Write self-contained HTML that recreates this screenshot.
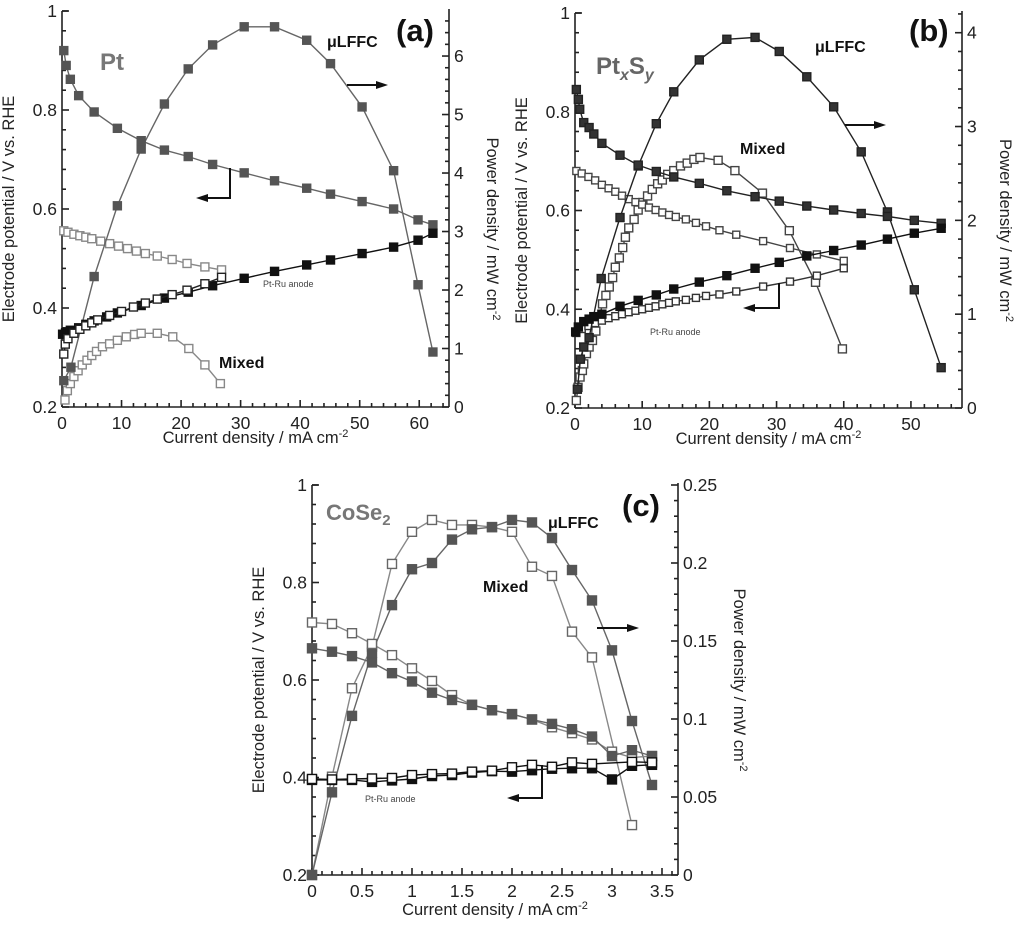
<!DOCTYPE html>
<html><head><meta charset="utf-8"><style>
html,body{margin:0;padding:0;background:#fff;}
svg{display:block;font-family:"Liberation Sans",sans-serif;}
</style></head><body>
<svg id="fig" width="1024" height="935" viewBox="0 0 1024 935"></svg>
<script>
// ---------- Panel A data ----------
const aPowX=[0.3,1.5,5.4,9.3,13.3,17.2,21.2,25.3,30.6,35.7,41.1,45.1,50.4,55.7,59.8,62.3];
const aPowY=[0.45,0.68,2.23,3.44,4.41,5.18,5.78,6.19,6.5,6.5,6.27,5.87,5.13,4.04,2.09,0.94];
const aPolX=[0.3,0.7,1.4,2.8,5.4,9.3,13.3,17.2,21.2,25.3,30.6,35.7,41.1,45.1,50.4,55.7,59.8,62.3];
const aPolY=[0.92,0.89,0.862,0.829,0.796,0.763,0.738,0.719,0.706,0.69,0.673,0.657,0.642,0.63,0.615,0.6,0.578,0.568];
const aAnX=[0.1,0.6,1.4,2.8,4,5.4,7.5,9.3,13.3,17.2,21.2,25.3,30.6,35.7,41.1,45.1,50.4,55.7,59.8,62.3];
const aAnY=[0.347,0.35,0.355,0.36,0.367,0.374,0.382,0.39,0.405,0.42,0.432,0.445,0.46,0.474,0.487,0.497,0.51,0.523,0.537,0.551];
const aMxPolX=[0.3,1,2,3,4,5,6.5,8,9.5,11,12.5,14,16,18.5,21,24,26.8];
const aMxPolY=[0.556,0.553,0.549,0.546,0.543,0.54,0.535,0.53,0.525,0.52,0.515,0.51,0.505,0.498,0.49,0.483,0.477];
const aMxAnX=[0.3,0.55,1,2,3,4,5,6,8,10,12,14,16,18.5,21,24,26.8];
const aMxAnY=[0.307,0.327,0.338,0.349,0.357,0.364,0.37,0.376,0.385,0.393,0.402,0.41,0.418,0.427,0.436,0.449,0.462];
const aMxPowX=[0.5,0.9,1.4,2,2.7,3.4,4.2,5,5.8,6.8,8,9.3,10.8,12.2,13.3,16,18.6,21.3,24,26.6];
const aMxPowY=[0.12,0.28,0.4,0.52,0.62,0.72,0.8,0.88,0.95,1.03,1.08,1.14,1.2,1.24,1.26,1.26,1.2,1.0,0.72,0.4];
// ---------- Panel B data ----------
const bPowX=[0.35,0.8,1.3,2.1,3.9,6.7,9.4,12.1,14.7,18.5,22.6,26.8,30.4,34.5,38.5,42.6,46.5,50.5,54.5];
const bPowY=[0.2,0.52,0.65,0.75,1.38,2.03,2.58,3.03,3.37,3.71,3.93,3.95,3.8,3.53,3.21,2.73,2.09,1.26,0.43];
const bPolX=[0.2,0.5,0.7,1.3,2.1,2.8,4,6.7,9.4,12.1,14.7,18.5,22.6,26.8,30.4,34.5,38.5,42.6,46.5,50.5,54.5];
const bPolY=[0.845,0.825,0.805,0.778,0.768,0.755,0.736,0.712,0.692,0.679,0.668,0.655,0.64,0.628,0.619,0.609,0.601,0.594,0.588,0.58,0.574];
const bAnX=[0.1,0.5,1.3,2.1,2.8,4,6.7,9.4,12.1,14.7,18.5,22.6,26.8,30.4,34.5,38.5,42.6,46.5,50.5,54.5];
const bAnY=[0.354,0.364,0.375,0.38,0.385,0.39,0.406,0.418,0.429,0.441,0.455,0.468,0.483,0.495,0.508,0.519,0.53,0.542,0.554,0.564];
const bMxPolX=[0.2,1,2,3,4,5,6,7,8,9,10,11,12,13,14,15,16.5,18,19.5,21.5,24,28,32,36,40];
const bMxPolY=[0.68,0.675,0.668,0.661,0.652,0.645,0.638,0.63,0.623,0.617,0.612,0.606,0.601,0.596,0.591,0.587,0.582,0.575,0.568,0.56,0.551,0.538,0.524,0.511,0.498];
const bMxAnX=[0.2,1,2,3,4,5,6,7,8,9,10,11,12,13,14,15,16.5,18,19.5,21.5,24,28,32,36,40];
const bMxAnY=[0.352,0.36,0.366,0.372,0.377,0.382,0.386,0.39,0.394,0.397,0.4,0.403,0.406,0.41,0.413,0.416,0.419,0.423,0.427,0.43,0.436,0.446,0.456,0.468,0.483];
const bMxPowX=[0.2,0.45,0.75,1.1,1.3,1.7,2.1,2.6,3.1,3.6,4.1,4.6,5.1,5.6,6,6.6,7.1,7.5,8,8.8,9.4,10.1,10.8,11.5,12.3,13,13.8,14.7,15.7,16.7,17.7,18.6,21.3,23.8,27.9,31.9,35.8,39.8];
const bMxPowY=[0.08,0.22,0.33,0.4,0.47,0.58,0.65,0.72,0.82,0.96,1.11,1.2,1.29,1.39,1.5,1.6,1.71,1.82,1.92,2.01,2.11,2.19,2.26,2.33,2.39,2.43,2.49,2.53,2.58,2.61,2.65,2.67,2.64,2.53,2.29,1.89,1.34,0.63];
// ---------- Panel C data ----------
const cX=[0,0.2,0.4,0.6,0.8,1,1.2,1.4,1.6,1.8,2,2.2,2.4,2.6,2.8,3,3.2,3.4];
const cPow=[0,0.053,0.102,0.1425,0.173,0.196,0.2,0.215,0.2216,0.223,0.2276,0.226,0.216,0.1955,0.176,0.144,0.0987,0.0577];
const cMxPowX=[0,0.2,0.4,0.6,0.8,1,1.2,1.4,1.6,1.8,2,2.2,2.4,2.6,2.8,3.2];
const cMxPow=[0,0.063,0.1197,0.1464,0.1994,0.22,0.2276,0.2244,0.2244,0.223,0.22,0.1976,0.1917,0.156,0.1395,0.032];
const cPol=[0.665,0.658,0.649,0.636,0.614,0.597,0.574,0.559,0.549,0.538,0.53,0.519,0.51,0.499,0.484,0.444,0.456,0.444];
const cMxPol=[0.718,0.715,0.696,0.674,0.651,0.624,0.598,0.569,0.549,0.538,0.53,0.519,0.503,0.491,0.478,0.453,0.441,0.444];
const cAn=[0.395,0.395,0.395,0.391,0.394,0.397,0.403,0.405,0.41,0.413,0.412,0.415,0.418,0.419,0.419,0.396,0.424,0.426];
const cMxAnX=[0,0.2,0.4,0.6,0.8,1,1.2,1.4,1.6,1.8,2,2.2,2.4,2.6,2.8,3.2,3.4];
const cMxAn=[0.397,0.396,0.397,0.398,0.399,0.405,0.407,0.408,0.412,0.414,0.421,0.426,0.422,0.431,0.428,0.432,0.431];

const NS="http://www.w3.org/2000/svg";
const svg=document.getElementById('fig');
function el(tag,attrs,parent){const e=document.createElementNS(NS,tag);for(const k in attrs)e.setAttribute(k,attrs[k]);(parent||svg).appendChild(e);return e;}
function txt(s,x,y,size,attrs,parent){const t=el('text',Object.assign({x:x,y:y,'font-size':size},attrs||{}),parent);t.textContent=s;return t;}

function makePanel(P){
  const g=el('g',{});
  
  
  const sx=v=>P.x0+(v/P.xmax)*(P.x1-P.x0);
  const sl=v=>P.yb-((v-0.2)/0.8)*(P.yb-P.yt);
  const sr=v=>P.yb-(v/P.rmax)*(P.yb-P.yt);
  P.sx=sx;P.sl=sl;P.sr=sr;P.g=g;
  const ax=el('g',{stroke:'#222','stroke-width':1.6,fill:'none'},g);
  
  
  el('line',{x1:P.x0,y1:P.yt,x2:P.x0,y2:P.yb},ax);
  el('line',{x1:P.x0,y1:P.yb,x2:P.x1,y2:P.yb},ax);
  el('line',{x1:P.x1,y1:P.yb,x2:P.x1,y2:P.yt-2},ax);
  el('line',{x1:P.x0,y1:P.yt,x2:P.x0+6,y2:P.yt},ax);
  for(let i=0;i<=20;i++){const v=0.2+i*0.04;const y=sl(v);const maj=i%5===0;
    el('line',{x1:P.x0,y1:y,x2:P.x0+(maj?7:4),y2:y},ax);
    if(maj){const lab=(Math.abs(v-1)<1e-6)?'1':v.toFixed(1);
      const t=txt(lab,P.x0-5,y+6,17.5,{'text-anchor':'end',fill:'#222',stroke:'none'},g);
      }}
  for(let v=0;v<=P.xmax+1e-9;v+=P.xminor){const x=sx(v);const r=Math.round(v/P.xmajor*1000)/1000;const maj=Math.abs(r-Math.round(r))<1e-6;
    el('line',{x1:x,y1:P.yb,x2:x,y2:P.yb-(maj?7:4)},ax);
    if(maj){const lab=P.xfmt(v);const t=txt(lab,x,P.yb+22,17.5,{'text-anchor':'middle',fill:'#222',stroke:'none'},g);
      }}
  for(let v=0;v<=P.rmax+1e-9;v+=P.rminor){const y=sr(v);const r=Math.round(v/P.rmajor*1000)/1000;const maj=Math.abs(r-Math.round(r))<1e-6;
    el('line',{x1:P.x1,y1:y,x2:P.x1-(maj?7:4),y2:y},ax);
    if(maj){const t=txt(P.rfmt(v),P.x1+5,y+6,17.5,{fill:'#222',stroke:'none'},g);
      }}
  const lt=txt('Electrode potential / V vs. RHE',0,0,16.5,{fill:'#222','text-anchor':'middle',transform:`translate(${P.x0-48},${(P.yt+P.yb)/2}) rotate(-90)`},g);
  
  const rt=el('text',{'font-size':16.5,fill:'#222','text-anchor':'middle',transform:`translate(${P.rtx},${(P.yt+P.yb)/2+P.rtdy}) rotate(90)`},g);
  rt.innerHTML='Power density / mW cm<tspan dy="-6" font-size="11">-2</tspan>';
  
  const xt=el('text',{'font-size':16.5,fill:'#222','text-anchor':'middle',x:(P.x0+P.x1)/2,y:P.yb+P.xtdy},g);
  xt.innerHTML='Current density / mA cm<tspan dy="-6" font-size="11">-2</tspan>';
  
  return P;
}
function series(P,name,xs,ys,axis,line,fill,stroke,size){
  const g=el('g',{},P.g);
  
  
  const sy=axis==='r'?P.sr:P.sl;
  const pts=xs.map((x,i)=>P.sx(x).toFixed(1)+','+sy(ys[i]).toFixed(1)).join(' ');
  el('polyline',{points:pts,fill:'none',stroke:line,'stroke-width':1.4},g);
  xs.forEach((x,i)=>{const r=el('rect',{x:P.sx(x)-size/2,y:sy(ys[i])-size/2,width:size,height:size,fill:fill,stroke:stroke,'stroke-width':1.4},g);
    
    });
}
function arrow(P,name,pts,color){
  const g=el('g',{},P.g);
  
  
  el('polyline',{points:pts.map(p=>p.join(',')).join(' '),fill:'none',stroke:color||'#111','stroke-width':2},g);
  const [a,b]=[pts[pts.length-2],pts[pts.length-1]];const dx=Math.sign(b[0]-a[0]);
  el('polygon',{points:`${b[0]+dx*3},${b[1]} ${b[0]-dx*9},${b[1]-4} ${b[0]-dx*9},${b[1]+4}`,fill:color||'#111'},g);
}
function label(P,s,x,y,size,attrs,name){const t=txt(s,x,y,size,Object.assign({fill:'#111','font-weight':'bold'},attrs||{}),P.g);
  return t;}

const G='#555',GL='#666',OG='#888';
const A=makePanel({id:'a',x0:62,x1:449,yb:407,yt:11,xmax:65,xminor:2,xmajor:10,rmax:6.77,rminor:0.2,rmajor:1,
  xfmt:v=>String(Math.round(v)),rfmt:v=>String(Math.round(v)),rtx:487,rtdy:20,xtdy:36});
series(A,'pt-mixed-power',aMxPowX,aMxPowY,'r',OG,'#fff',OG,8);
series(A,'pt-mixed-cathode',aMxPolX,aMxPolY,'l',OG,'#fff',OG,8);
series(A,'pt-lffc-power',aPowX,aPowY,'r',GL,G,G,8);
series(A,'pt-lffc-cathode',aPolX,aPolY,'l',GL,G,G,8);
series(A,'pt-lffc-anode',aAnX,aAnY,'l','#111','#111','#111',8);
series(A,'pt-mixed-anode',aMxAnX,aMxAnY,'l','#222','#fff','#222',8);
label(A,'Pt',100,70,24,{fill:'#777'},'catalyst-label-pt');
label(A,'μLFFC',327,47,16,{},'lffc-label');
label(A,'(a)',396,41,31,{fill:'#111'},'panel-label-a');
label(A,'Mixed',219,368,16,{},'mixed-label');
label(A,'Pt-Ru anode',263,287,9,{'font-weight':'normal',fill:'#444'},'anode-label');
arrow(A,'power-axis-arrow',[[347,85],[385,85]]);
arrow(A,'potential-axis-arrow',[[230,168],[230,198],[199,198]]);
const B=makePanel({id:'b',x0:575,x1:962,yb:408,yt:13,xmax:57.6,xminor:2,xmajor:10,rmax:4.21,rminor:0.2,rmajor:1,
  xfmt:v=>String(Math.round(v)),rfmt:v=>String(Math.round(v)),rtx:1000,rtdy:20,xtdy:36});
series(B,'ptxsy-mixed-power',bMxPowX,bMxPowY,'r','#444','#fff','#444',8);
series(B,'ptxsy-mixed-cathode',bMxPolX,bMxPolY,'l','#444','#fff','#444',7);
series(B,'ptxsy-mixed-anode',bMxAnX,bMxAnY,'l','#333','#fff','#333',7);
series(B,'ptxsy-lffc-power',bPowX,bPowY,'r','#222','#333','#222',8);
series(B,'ptxsy-lffc-cathode',bPolX,bPolY,'l','#222','#333','#222',8);
series(B,'ptxsy-lffc-anode',bAnX,bAnY,'l','#111','#111','#111',8);
const ptl=el('text',{x:596,y:74,'font-size':24,'font-weight':'bold',fill:'#666'},B.g);
ptl.innerHTML='Pt<tspan font-size="16" dy="6" font-style="italic">x</tspan><tspan dy="-6">S</tspan><tspan font-size="16" dy="6" font-style="italic">y</tspan>';

label(B,'μLFFC',815,52,16,{},'lffc-label');
label(B,'(b)',909,41,31,{},'panel-label-b');
label(B,'Mixed',740,154,16,{},'mixed-label');
label(B,'Pt-Ru anode',650,335,9,{'font-weight':'normal',fill:'#444'},'anode-label');
arrow(B,'power-axis-arrow',[[845,125],[883,125]]);
arrow(B,'potential-axis-arrow',[[779,283],[779,308],[746,308]]);
const C=makePanel({id:'c',x0:312,x1:678,yb:875,yt:485,xmax:3.66,xminor:0.1,xmajor:0.5,rmax:0.25,rminor:0.01,rmajor:0.05,
  xfmt:v=>{const r=Math.round(v*10)/10;return String(r);},rfmt:v=>{const r=Math.round(v*100)/100;return r===0?'0':String(r);},rtx:734,rtdy:0,xtdy:40});
series(C,'cose2-mixed-power',cMxPowX,cMxPow,'r',OG,'#fff',GL,9);
series(C,'cose2-lffc-power',cX,cPow,'r',GL,G,G,9);
series(C,'cose2-mixed-cathode',cX,cMxPol,'l',OG,'#fff',GL,9);
series(C,'cose2-lffc-cathode',cX,cPol,'l',GL,G,G,9);
series(C,'cose2-lffc-anode',cX,cAn,'l','#111','#111','#111',9);
series(C,'cose2-mixed-anode',cMxAnX,cMxAn,'l','#111','#fff','#111',9);
const co=el('text',{x:326,y:520,'font-size':22,'font-weight':'bold',fill:'#777'},C.g);
co.innerHTML='CoSe<tspan font-size="15" dy="5">2</tspan>';

label(C,'μLFFC',548,528,16,{},'lffc-label');
label(C,'(c)',622,516,31,{},'panel-label-c');
label(C,'Mixed',483,592,16,{},'mixed-label');
label(C,'Pt-Ru anode',365,802,9,{'font-weight':'normal',fill:'#444'},'anode-label');
arrow(C,'power-axis-arrow',[[597,628],[636,628]]);
arrow(C,'potential-axis-arrow',[[542,765],[542,798],[510,798]]);
</script>
</body></html>
